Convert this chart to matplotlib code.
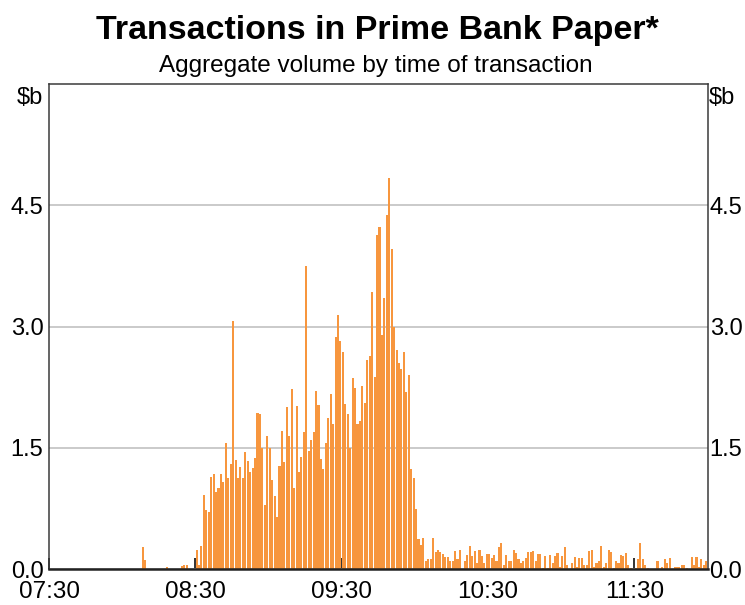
import numpy as np
import matplotlib
matplotlib.use("Agg")
import matplotlib.pyplot as plt

plt.rcParams['font.family'] = ['Liberation Sans', 'DejaVu Sans']

# aggregate volume ($b) per minute, from 08:00 to 11:59
first_minute = 30  # minutes after 07:30
volume = [
    0.00, 0.00, 0.00, 0.00, 0.00, 0.00, 0.00, 0.00, 0.27, 0.11,
    0.00, 0.00, 0.00, 0.00, 0.00, 0.00, 0.00, 0.00, 0.02, 0.00,
    0.00, 0.00, 0.00, 0.00, 0.04, 0.05, 0.05, 0.00, 0.00, 0.00,
    # 08:30
    0.24, 0.05, 0.28, 0.92, 0.73, 0.71, 1.14, 1.18, 0.95, 1.00,
    1.17, 1.08, 1.56, 1.12, 1.30, 3.07, 1.35, 1.13, 1.26, 1.12,
    1.45, 1.34, 1.20, 1.25, 1.37, 1.93, 1.92, 1.50, 0.79, 1.65,
    1.50, 1.10, 0.90, 0.64, 1.28, 1.71, 1.32, 2.00, 1.65, 2.23,
    1.00, 2.02, 1.20, 1.39, 1.70, 3.75, 1.46, 1.59, 1.70, 2.20,
    2.03, 1.36, 1.24, 1.56, 1.87, 2.16, 1.80, 2.87, 3.14, 2.82,
    # 09:30
    2.68, 2.04, 1.92, 1.50, 2.36, 2.24, 1.80, 1.83, 2.26, 2.05,
    2.58, 2.63, 3.43, 2.37, 4.13, 4.23, 2.90, 3.35, 4.38, 4.84,
    3.96, 3.00, 2.71, 2.55, 2.48, 2.69, 2.19, 2.40, 1.24, 1.13,
    0.74, 0.37, 0.30, 0.38, 0.10, 0.12, 0.12, 0.38, 0.21, 0.24,
    0.21, 0.19, 0.15, 0.15, 0.10, 0.10, 0.22, 0.12, 0.24, 0.00,
    0.10, 0.17, 0.29, 0.16, 0.22, 0.07, 0.24, 0.16, 0.07, 0.19,
    # 10:30
    0.19, 0.13, 0.17, 0.10, 0.27, 0.32, 0.05, 0.17, 0.10, 0.10,
    0.24, 0.20, 0.12, 0.07, 0.10, 0.14, 0.21, 0.21, 0.22, 0.10,
    0.19, 0.19, 0.01, 0.16, 0.01, 0.17, 0.07, 0.16, 0.20, 0.03,
    0.16, 0.27, 0.05, 0.00, 0.07, 0.15, 0.02, 0.14, 0.14, 0.05,
    0.05, 0.22, 0.24, 0.02, 0.07, 0.10, 0.29, 0.02, 0.07, 0.24,
    0.21, 0.01, 0.10, 0.08, 0.17, 0.16, 0.20, 0.05, 0.01, 0.00,
    # 11:30
    0.01, 0.12, 0.32, 0.12, 0.05, 0.01, 0.00, 0.00, 0.00, 0.10,
    0.00, 0.03, 0.12, 0.08, 0.14, 0.00, 0.03, 0.03, 0.03, 0.05,
    0.05, 0.01, 0.00, 0.15, 0.05, 0.15, 0.03, 0.12, 0.05, 0.10,
]

x_ticks = [0, 60, 120, 180, 240]
x_labels = ['07:30', '08:30', '09:30', '10:30', '11:30']
y_ticks = [0, 1.5, 3.0, 4.5]
y_labels = ['0.0', '1.5', '3.0', '4.5']

bar_color = '#F7963E'

W, H = 745, 605
fig = plt.figure(figsize=(W / 100, H / 100), dpi=100)
ax = fig.add_axes([49 / W, 1 - 569 / H, (707.5 - 49) / W, (569 - 84) / H])

minutes = first_minute + np.arange(len(volume))
ax.bar(minutes + 0.5, volume, width=0.85, color=bar_color, linewidth=0, zorder=2)

ax.set_xlim(0, 270)
ax.set_ylim(0, 6)
ax.set_xticks(x_ticks)
ax.set_xticklabels(x_labels)
ax.set_yticks(y_ticks)
ax.set_yticklabels(y_labels)
ax.tick_params(axis='x', direction='in', length=8, width=1.3, color='#222222',
               labelsize=17.5, pad=9)
ax.tick_params(axis='y', length=0, labelsize=17, pad=4)

# right-hand scale sits closer to the frame
ax_r = ax.twinx()
ax_r.set_ylim(0, 6)
ax_r.set_yticks(y_ticks)
ax_r.set_yticklabels(y_labels)
ax_r.tick_params(axis='y', length=0, labelsize=17, pad=1.5)
for side in ['left', 'right', 'top', 'bottom']:
    ax_r.spines[side].set_visible(False)

ax.grid(axis='y', color='#c6c6c6', linewidth=1.3, zorder=1)
ax.set_axisbelow(True)
for side in ['left', 'right', 'top']:
    ax.spines[side].set_color('#3a3a3a')
    ax.spines[side].set_linewidth(1.1)
ax.spines['bottom'].set_color('#222222')
ax.spines['bottom'].set_linewidth(1.8)

fig.text(43 / W, 1 - 87 / H, '\\$b', ha='right', va='top', fontsize=17)
fig.text(709 / W, 1 - 87 / H, '\\$b', ha='left', va='top', fontsize=17)

fig.text(377 / W, 1 - 30 / H, 'Transactions in Prime Bank Paper*',
         ha='center', va='center', fontsize=24.5, fontweight='bold')
fig.text(376 / W, 1 - 66 / H, 'Aggregate volume by time of transaction',
         ha='center', va='center', fontsize=17.5)

fig.savefig('out.png', dpi=100)
